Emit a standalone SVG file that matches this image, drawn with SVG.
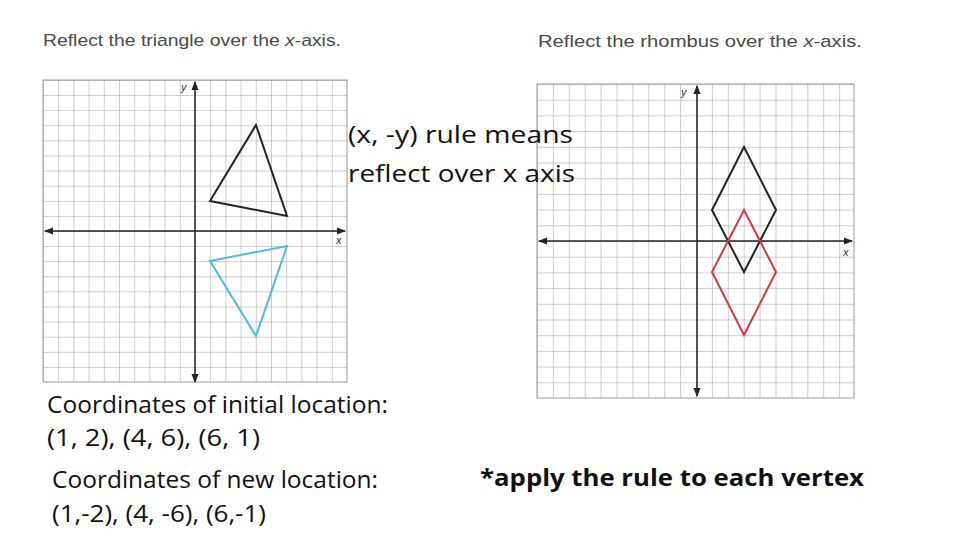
<svg xmlns="http://www.w3.org/2000/svg" width="960" height="540" viewBox="0 0 960 540">
<defs>
<style>
.t{font-family:"Liberation Sans",Arial,sans-serif;fill:#4a4a4a;font-size:17px}
.b{font-family:"Open Sans","Liberation Sans",sans-serif;fill:#111;font-size:23px}
.g{stroke:#999;stroke-width:1}
.ax{stroke:#222;stroke-width:1.5}
.lbl{font-family:"Liberation Sans",Arial,sans-serif;font-style:italic;font-size:11px;fill:#333}
</style>
<marker id="ah" viewBox="0 0 10 10" refX="9" refY="5" markerWidth="6" markerHeight="6" orient="auto-start-reverse"><path d="M0,1 L10,5 L0,9 z" fill="#222"/></marker>
<pattern id="p1" x="43" y="80" width="15.2" height="15.1" patternUnits="userSpaceOnUse"><path d="M0,0 V15.1 M0,0 H15.2" class="g" fill="none"/></pattern>
<pattern id="p2" x="537" y="84" width="15.9" height="15.7" patternUnits="userSpaceOnUse"><path d="M0,0 V15.7 M0,0 H15.9" class="g" fill="none"/></pattern>
</defs>
<rect width="960" height="540" fill="#fff"/>
<g id="titles">
<text class="t" x="43" y="46" textLength="298" lengthAdjust="spacingAndGlyphs">Reflect the triangle over the <tspan font-style="italic">x</tspan>-axis.</text>
<text class="t" x="538" y="47" textLength="324" lengthAdjust="spacingAndGlyphs">Reflect the rhombus over the <tspan font-style="italic">x</tspan>-axis.</text>
</g>
<g id="grid1">
<rect x="43" y="80" width="304" height="302" fill="url(#p1)" stroke="#999"/>
<line class="ax" x1="345" y1="231" x2="45" y2="231" marker-end="url(#ah)" marker-start="url(#ah)"/>
<line class="ax" x1="195" y1="82" x2="195" y2="382" marker-end="url(#ah)" marker-start="url(#ah)"/>
<text class="lbl" x="181" y="91">y</text><text class="lbl" x="336" y="244">x</text>
</g>
<g id="triangle">
<polygon points="210,201 256,125 287,216" fill="none" stroke="#222" stroke-width="2"/>
<polygon points="210,261 256,336 287,246" fill="none" stroke="#4bbbe0" stroke-width="2"/>
</g>
<g id="grid2">
<rect x="537" y="84" width="317" height="314" fill="url(#p2)" stroke="#999"/>
<line class="ax" x1="852" y1="241" x2="539" y2="241" marker-end="url(#ah)" marker-start="url(#ah)"/>
<line class="ax" x1="697" y1="86" x2="697" y2="396" marker-end="url(#ah)" marker-start="url(#ah)"/>
<text class="lbl" x="681" y="96">y</text><text class="lbl" x="843" y="256">x</text>
</g>
<g id="rhombus">
<polygon points="744,147 776,210 744,272 712,210" fill="none" stroke="#222" stroke-width="2"/>
<polygon points="744,210 776,272 744,335 712,272" fill="none" stroke="#d9363e" stroke-width="2"/>
</g>
<g id="texts">
<text class="b" x="348" y="143" font-size="25" textLength="225" lengthAdjust="spacingAndGlyphs">(x, -y) rule means</text>
<text class="b" x="348" y="182" font-size="25" textLength="227" lengthAdjust="spacingAndGlyphs">reflect over x axis</text>
<text class="b" x="47" y="413" textLength="341" lengthAdjust="spacingAndGlyphs">Coordinates of initial location:</text>
<text class="b" x="47" y="446" textLength="213" lengthAdjust="spacingAndGlyphs">(1, 2), (4, 6), (6, 1)</text>
<text class="b" x="52" y="488" textLength="326" lengthAdjust="spacingAndGlyphs">Coordinates of new location:</text>
<text class="b" x="52" y="522" textLength="214" lengthAdjust="spacingAndGlyphs">(1,-2), (4, -6), (6,-1)</text>
<text class="b" x="480" y="486" font-size="30" font-weight="bold" textLength="384" lengthAdjust="spacingAndGlyphs">*apply the rule to each vertex</text>
</g>
</svg>
